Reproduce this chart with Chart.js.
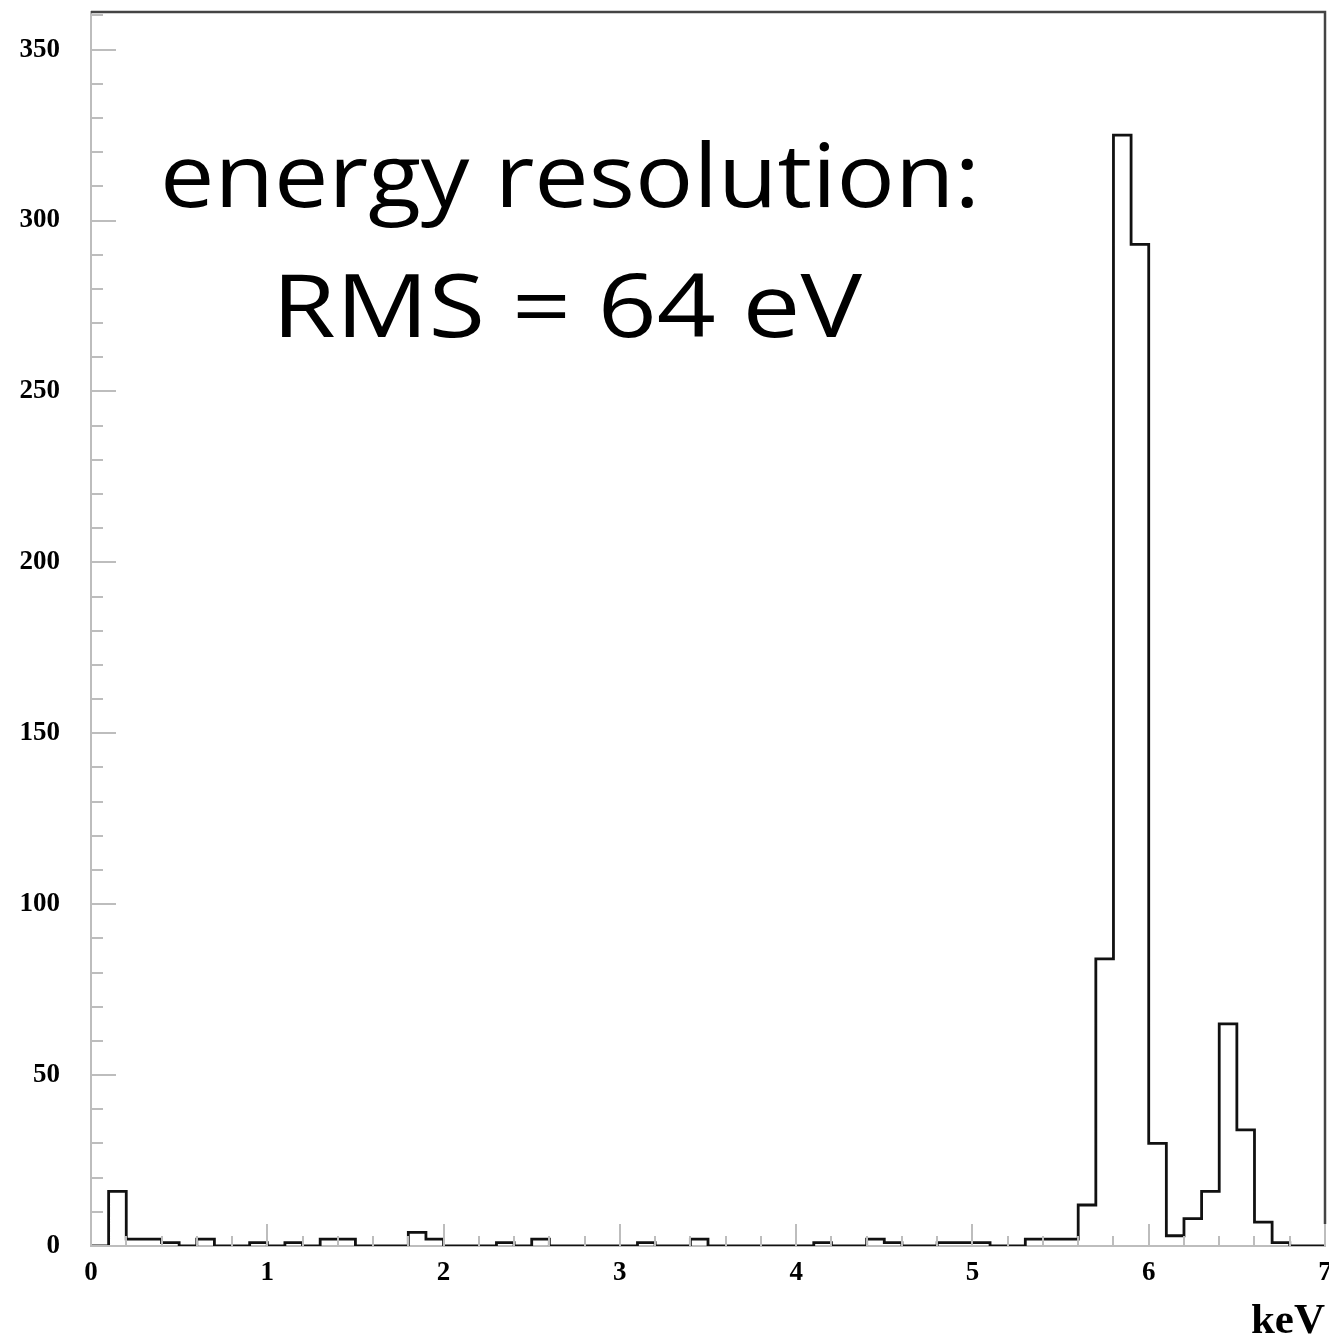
<!DOCTYPE html>
<html lang="en">
<head>
    <meta charset="UTF-8">
    <title>energy resolution</title>
    <script src="https://cdn.jsdelivr.net/npm/chart.js"></script>
    <style>
        body {
            margin: 0;
            padding: 0;
            background-color: #fff;
        }

        .chart-container {
            position: relative;
            width: 1329px;
            height: 1343px;
        }
    </style>
</head>
<body>
    <div class="chart-container">
        <canvas id="histChart" width="1329" height="1343"></canvas>
    </div>

    <script>
        // bin lower edges (keV), 0.1 keV bins, last entry is the upper edge of the last bin
        const binEdges = [
            0.0, 0.1, 0.2, 0.3, 0.4, 0.5, 0.6, 0.7, 0.8, 0.9,
            1.0, 1.1, 1.2, 1.3, 1.4, 1.5, 1.6, 1.7, 1.8, 1.9,
            2.0, 2.1, 2.2, 2.3, 2.4, 2.5, 2.6, 2.7, 2.8, 2.9,
            3.0, 3.1, 3.2, 3.3, 3.4, 3.5, 3.6, 3.7, 3.8, 3.9,
            4.0, 4.1, 4.2, 4.3, 4.4, 4.5, 4.6, 4.7, 4.8, 4.9,
            5.0, 5.1, 5.2, 5.3, 5.4, 5.5, 5.6, 5.7, 5.8, 5.9,
            6.0, 6.1, 6.2, 6.3, 6.4, 6.5, 6.6, 6.7, 6.8, 6.9,
            7.0
        ];

        // counts per bin
        const counts = [
            0, 16, 2, 2, 1, 0, 2, 0, 0, 1,
            0, 1, 0, 2, 2, 0, 0, 0, 4, 2,
            0, 0, 0, 1, 0, 2, 0, 0, 0, 0,
            0, 1, 0, 0, 2, 0, 0, 0, 0, 0,
            0, 1, 0, 0, 2, 1, 0, 0, 1, 1,
            1, 0, 0, 2, 2, 2, 12, 84, 325, 293,
            30, 3, 8, 16, 65, 34, 7, 1, 0, 0
        ];

        const xTickValues = [0, 1, 2, 3, 4, 5, 6, 7];
        const yTickValues = [0, 50, 100, 150, 200, 250, 300, 350];
        const xMinorStep = 0.2;
        const yMinorStep = 10;

        const noteLines = ["energy resolution:", "RMS = 64 eV"];
        const axisTitle = "keV";

        // step outline: one point per bin lower edge, then closing point at 7 keV
        const points = binEdges.map((e, i) => ({ x: e, y: i < counts.length ? counts[i] : 0 }));

        const tickFont = { family: "'Liberation Serif', 'Times New Roman', serif", weight: "bold", size: 27 };
        const axisGray = "#bdbdbd";

        // draws one line of text stretched to a given width, centred on cx
        function drawWideText(ctx, text, cx, baseline, width) {
            const w = ctx.measureText(text).width;
            const sx = width / w;
            ctx.save();
            ctx.translate(cx, baseline);
            ctx.scale(sx, 1);
            ctx.fillText(text, 0, 0);
            ctx.restore();
        }

        const frameAndTicks = {
            id: "frameAndTicks",
            afterDatasetsDraw(chart) {
                const ctx = chart.ctx;
                const area = chart.chartArea;
                const xs = chart.scales.x;
                const ys = chart.scales.y;
                ctx.save();

                // inner tick marks, ROOT style
                ctx.strokeStyle = axisGray;
                ctx.lineWidth = 2;
                for (let v = 0; v <= 360; v += yMinorStep) {
                    const y = Math.round(ys.getPixelForValue(v));
                    const len = v % 50 === 0 ? 25 : 12;
                    ctx.beginPath();
                    ctx.moveTo(area.left, y);
                    ctx.lineTo(area.left + len, y);
                    ctx.stroke();
                }
                for (let k = 0; k <= 35; k++) {
                    const v = k * xMinorStep;
                    const x = Math.round(xs.getPixelForValue(v));
                    const len = k % 5 === 0 ? 22 : 10;
                    ctx.beginPath();
                    ctx.moveTo(x, area.bottom);
                    ctx.lineTo(x, area.bottom - len);
                    ctx.stroke();
                }

                // top and right frame
                ctx.strokeStyle = "#444";
                ctx.lineWidth = 2.5;
                ctx.beginPath();
                ctx.moveTo(area.left, area.top);
                ctx.lineTo(area.right, area.top);
                ctx.lineTo(area.right, area.bottom - 22);
                ctx.stroke();

                // annotation
                ctx.fillStyle = "#000";
                ctx.textAlign = "center";
                ctx.textBaseline = "alphabetic";
                ctx.font = "88px 'Open Sans', 'Noto Sans', sans-serif";
                drawWideText(ctx, noteLines[0], 570, 207, 820);
                drawWideText(ctx, noteLines[1], 567, 337, 590);
                ctx.restore();
            }
        };

        new Chart(document.getElementById("histChart"), {
            type: "line",
            data: {
                datasets: [
                    {
                        data: points,
                        stepped: "before",
                        borderColor: "#111",
                        borderWidth: 2.8,
                        pointRadius: 0,
                        fill: false
                    }
                ]
            },
            options: {
                responsive: false,
                animation: false,
                layout: { padding: { top: 12, right: 4, left: 0, bottom: 0 } },
                plugins: {
                    legend: { display: false },
                    tooltip: { enabled: false }
                },
                scales: {
                    x: {
                        type: "linear",
                        min: 0,
                        max: 7,
                        grid: { display: false, drawTicks: false, tickLength: 0 },
                        border: { display: true, color: axisGray, width: 2 },
                        ticks: { color: "#000", font: tickFont, padding: 11, maxRotation: 0, includeBounds: false },
                        title: {
                            display: true,
                            text: axisTitle,
                            align: "end",
                            color: "#000",
                            font: { family: "'Liberation Serif', 'Times New Roman', serif", weight: "bold", size: 43, lineHeight: 1 },
                            padding: 0
                        },
                        afterBuildTicks: s => { s.ticks = xTickValues.map(v => ({ value: v })); },
                        afterFit: s => { s.height = 97; s.paddingLeft = 0; s.paddingRight = 0; }
                    },
                    y: {
                        min: 0,
                        max: 361,
                        grid: { display: false, drawTicks: false, tickLength: 0 },
                        border: { display: true, color: axisGray, width: 2 },
                        ticks: { color: "#000", font: tickFont, padding: 31, includeBounds: false },
                        afterBuildTicks: s => { s.ticks = yTickValues.map(v => ({ value: v })); },
                        afterFit: s => { s.width = 91; s.paddingTop = 0; s.paddingBottom = 0; }
                    }
                }
            },
            plugins: [frameAndTicks]
        });
    </script>
</body>
</html>
